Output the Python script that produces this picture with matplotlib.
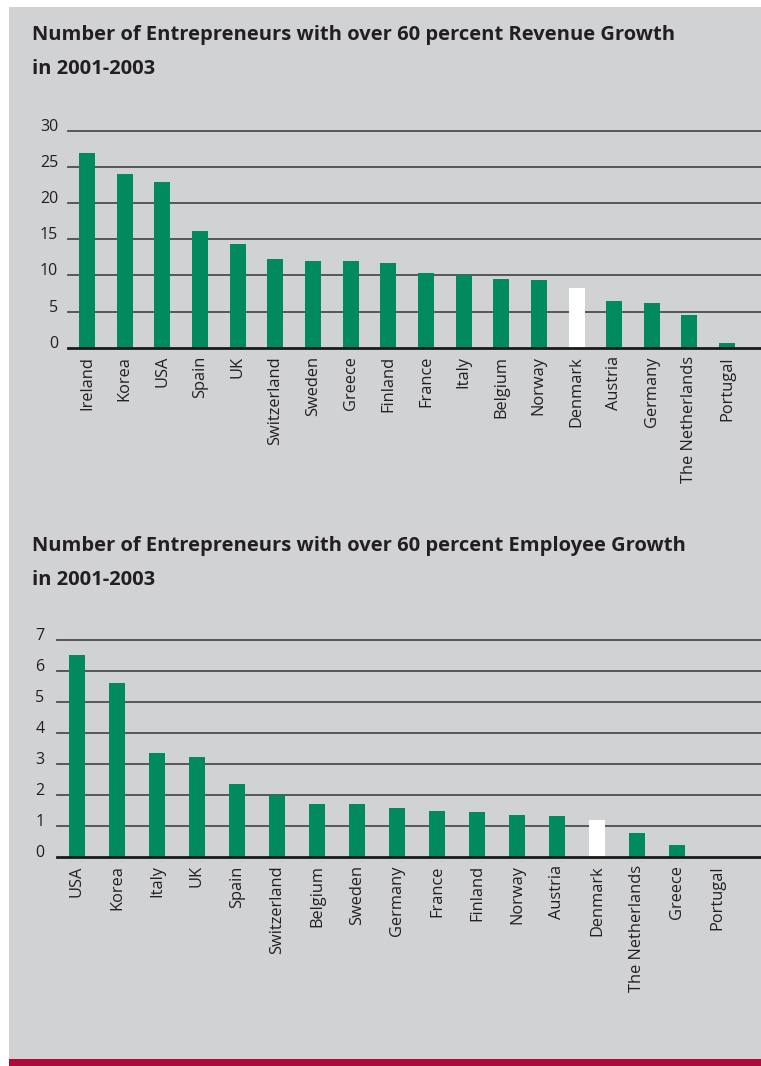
import matplotlib
matplotlib.use("Agg")
import matplotlib.pyplot as plt
from matplotlib.patches import Rectangle

# ---- data ----
rev_countries = ["Ireland", "Korea", "USA", "Spain", "UK", "Switzerland", "Sweden",
                 "Greece", "Finland", "France", "Italy", "Belgium", "Norway",
                 "Denmark", "Austria", "Germany", "The Netherlands", "Portugal"]
rev_values = [26.9, 24.0, 22.9, 16.1, 14.3, 12.3, 12.0, 12.0, 11.7, 10.3, 10.0,
              9.5, 9.35, 8.25, 6.45, 6.15, 4.5, 0.65]
rev_ticks = [0, 5, 10, 15, 20, 25, 30]

emp_countries = ["USA", "Korea", "Italy", "UK", "Spain", "Switzerland", "Belgium",
                 "Sweden", "Germany", "France", "Finland", "Norway", "Austria",
                 "Denmark", "The Netherlands", "Greece", "Portugal"]
emp_values = [6.52, 5.61, 3.35, 3.23, 2.35, 2.0, 1.71, 1.71, 1.58, 1.48, 1.45,
              1.35, 1.32, 1.19, 0.77, 0.39, 0.0]
emp_ticks = [0, 1, 2, 3, 4, 5, 6, 7]

title1 = "Number of Entrepreneurs with over 60 percent Revenue Growth\nin 2001-2003"
title2 = "Number of Entrepreneurs with over 60 percent Employee Growth\nin 2001-2003"

highlight = "Denmark"

# ---- style ----
W, H = 761, 1066
DPI = 100
BG = "#d1d2d4"
GREEN = "#008a5e"
RED = "#b0083a"
TXT = "#231f20"
GRID = "#4d4d4f"
FONT = "Open Sans"

plt.rcParams["font.family"] = [FONT, "DejaVu Sans"]

fig = plt.figure(figsize=(W / DPI, H / DPI), dpi=DPI)
fig.patch.set_facecolor("white")

# grey panel and red strip
fig.patches.append(Rectangle((9 / W, 7 / H), 1 - 9 / W, 1 - 14 / H,
                             transform=fig.transFigure, facecolor=BG,
                             edgecolor="none", zorder=-10))
fig.patches.append(Rectangle((9 / W, 0), 1 - 9 / W, 7 / H,
                             transform=fig.transFigure, facecolor=RED,
                             edgecolor="none", zorder=-10))


def px_axes(left, top, right, bottom):
    return fig.add_axes([left / W, 1 - bottom / H, (right - left) / W, (bottom - top) / H])


def draw(ax, cats, vals, ticks, xlim, width, ypad):
    ax.set_facecolor("none")
    x = list(range(len(cats)))
    colors = ["white" if c == highlight else GREEN for c in cats]
    for t in ticks[1:]:
        ax.axhline(t, color=GRID, lw=1.3, zorder=1, clip_on=False)
    ax.axhline(0, color="#1a1a1a", lw=2.0, zorder=3, clip_on=False)
    ax.bar(x, vals, width=width, color=colors, zorder=2)
    ax.set_xlim(*xlim)
    ax.set_ylim(ticks[0], ticks[-1])
    for s in ax.spines.values():
        s.set_visible(False)
    ax.set_yticks(ticks)
    ax.set_yticklabels([str(t) for t in ticks], fontsize=11.5, color=TXT)
    for lbl in ax.get_yticklabels():
        lbl.set_verticalalignment("baseline")
    ax.tick_params(axis="y", length=0, pad=ypad)
    ax.set_xticks(x)
    ax.set_xticklabels(cats, rotation=90, fontsize=11.8, color=TXT, va="top", ha="center")
    ax.tick_params(axis="x", length=0, pad=6)


ax1 = px_axes(68, 130.7, 761, 347.7)
draw(ax1, rev_countries, rev_values, rev_ticks, (-0.505, 17.9), 0.425, 7)

ax2 = px_axes(57, 640, 761, 857)
draw(ax2, emp_countries, emp_values, emp_ticks, (-0.5, 17.1), 0.4, 9)

fig.text(32 / W, 1 - 25 / H, title1, fontsize=14.5, fontweight="bold", color=TXT,
         va="top", ha="left", linespacing=1.95)
fig.text(32 / W, 1 - 536 / H, title2, fontsize=14.5, fontweight="bold", color=TXT,
         va="top", ha="left", linespacing=1.95)

fig.savefig("out.png", dpi=DPI, facecolor=fig.get_facecolor())
